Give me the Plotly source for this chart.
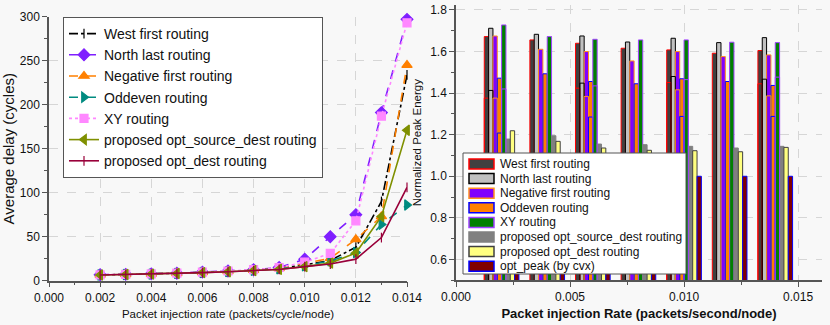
import plotly.graph_objects as go

# ---------------- Left chart data ----------------
rates = [0.002, 0.003, 0.004, 0.005, 0.006, 0.007, 0.008, 0.009, 0.010, 0.011, 0.012, 0.013, 0.014]
west_first = [6.5, 7.0, 7.5, 8.5, 9.5, 10.5, 12.0, 14.0, 18.0, 23.0, 38.0, 90.0, 234.0]
north_last = [6.8, 7.2, 7.8, 8.5, 9.8, 11.0, 12.5, 15.0, 24.5, 50.0, 75.0, 191.0, 297.0]
negative_first = [6.6, 7.1, 7.6, 8.4, 9.5, 10.6, 12.0, 14.0, 20.0, 25.5, 47.0, 73.0, 245.0]
oddeven = [6.5, 7.0, 7.5, 8.3, 9.3, 10.3, 11.8, 13.5, 17.0, 22.5, 32.0, 64.0, 86.0]
xy_routing = [6.7, 7.2, 7.8, 8.6, 9.7, 11.0, 12.5, 15.0, 21.0, 31.0, 68.0, 187.0, 293.0]
opt_source_dest = [6.5, 7.0, 7.5, 8.2, 9.2, 10.2, 11.6, 13.0, 16.0, 20.0, 31.5, 73.0, 171.0]
opt_dest = [6.5, 7.0, 7.5, 8.2, 9.2, 10.2, 11.5, 12.8, 16.0, 19.0, 24.5, 49.0, 106.0]

left_names = ["West first routing", "North last routing", "Negative first routing",
              "Oddeven routing", "XY routing", "proposed opt_source_dest routing",
              "proposed opt_dest routing"]

# ---------------- Right chart data ----------------
groups = [0.002, 0.004, 0.006, 0.008, 0.010, 0.012, 0.014]
e_west = [1.672, 1.656, 1.640, 1.616, 1.608, 1.592, 1.605]
e_north = [1.712, 1.683, 1.675, 1.646, 1.664, 1.643, 1.667]
e_negative = [1.675, 1.611, 1.600, 1.555, 1.600, 1.576, 1.584]
e_oddeven = [1.472, 1.493, 1.456, 1.445, 1.469, 1.456, 1.437]
e_xy = [1.728, 1.672, 1.659, 1.656, 1.656, 1.645, 1.643]
e_source_dest = [1.179, 1.195, 1.155, 1.152, 1.144, 1.136, 1.144]
e_dest = [1.219, 1.168, 1.136, 1.125, 1.123, 1.118, 1.139]
e_peak = [1.0, 1.0, 1.0, 1.0, 1.0, 1.0, 1.0]

# secondary (inner) levels visible inside some bars
in_west = [1.376, None, 1.424, None, 1.451, None, 1.445]
in_north = [1.413, None, 1.448, None, 1.480, None, 1.467]
in_negative = [1.376, None, 1.384, None, 1.416, None, 1.387]
in_oddeven = [1.208, None, 1.285, None, 1.288, None, 1.288]
in_xy = [1.420, None, 1.435, None, 1.465, None, 1.477]

right_names = ["West first routing", "North last routing", "Negative first routing",
               "Oddeven routing", "XY routing", "proposed opt_source_dest routing",
               "proposed opt_dest routing", "opt_peak (by cvx)"]

FONT = "Liberation Sans, Arial, sans-serif"
W, H = 830, 325
fig = go.Figure()

# ---- left: lines ----
left_series = [west_first, north_last, negative_first, oddeven, xy_routing, opt_source_dest, opt_dest]
left_styles = [
    dict(color="#000000", dash="dashdot", symbol="line-ns-open", size=7),
    dict(color="#7f1fff", dash="dash", symbol="diamond", size=9),
    dict(color="#ff8000", dash="dash", symbol="triangle-up", size=9),
    dict(color="#008b80", dash="dash", symbol="triangle-right", size=9),
    dict(color="#ff88ff", dash="dot", symbol="square", size=8),
    dict(color="#7f9000", dash="solid", symbol="triangle-left", size=9),
    dict(color="#99003a", dash="solid", symbol="line-ns-open", size=7),
]
for name, ys, st in zip(left_names, left_series, left_styles):
    fig.add_trace(go.Scatter(
        x=rates, y=ys, name=name, mode="lines+markers",
        line=dict(color=st["color"], dash=st["dash"], width=1.6),
        marker=dict(symbol=st["symbol"], size=st["size"], color=st["color"],
                    line=dict(color=st["color"], width=1.2)),
        cliponaxis=False, xaxis="x", yaxis="y", legend="legend"))

# ---- right: bars ----
bar_vals = [e_west, e_north, e_negative, e_oddeven, e_xy, e_source_dest, e_dest, e_peak]
bar_fill = ["#404040", "#c0c0c0", "#8000ff", "#ff8000", "#008000", "#808080", "#ffff80", "#800000"]
bar_line = ["#ff0000", "#000000", "#ff9020", "#0000ff", "#a040ff", "#808080", "#404040", "#0000ff"]
inner_vals = [in_west, in_north, in_negative, in_oddeven, in_xy]

bw = 0.00019
start = -4 * bw
for i, (name, ys) in enumerate(zip(right_names, bar_vals)):
    fig.add_trace(go.Bar(
        x=groups, y=ys, name=name, width=bw, offset=start + i * bw, showlegend=False,
        marker=dict(color=bar_fill[i], line=dict(color=bar_line[i], width=1)),
        xaxis="x2", yaxis="y2"))
for i, ys in enumerate(inner_vals):
    fig.add_trace(go.Bar(
        x=groups, y=ys, width=bw, offset=start + i * bw, showlegend=False,
        marker=dict(color="rgba(0,0,0,0)", line=dict(color=bar_line[i], width=1)),
        hoverinfo="skip", xaxis="x2", yaxis="y2"))

# ---- right legend (compact box, built from the series names and styles) ----
shapes = []
annotations = []
lx0, ly0, lx1, ly1 = 463, 153, 686, 274
shapes.append(dict(type="rect", xref="paper", yref="paper",
                   x0=lx0 / W, x1=lx1 / W, y0=1 - ly1 / H, y1=1 - ly0 / H,
                   fillcolor="#ffffff", line=dict(color="#555555", width=1), layer="above"))
for i, name in enumerate(right_names):
    cy = 164 + i * 14.6
    shapes.append(dict(type="rect", xref="paper", yref="paper",
                       x0=469 / W, x1=494 / W, y0=1 - (cy + 5) / H, y1=1 - (cy - 5) / H,
                       fillcolor=bar_fill[i], line=dict(color=bar_line[i], width=1.5), layer="above"))
    annotations.append(dict(xref="paper", yref="paper", x=498 / W, y=1 - cy / H,
                            xanchor="left", yanchor="middle", showarrow=False, text=name,
                            font=dict(family=FONT, size=12, color="#111111")))

axis_common = dict(
    showline=True, linecolor="#555555", linewidth=1.5, ticks="outside", ticklen=5,
    tickcolor="#555555", tickwidth=1.2, showgrid=True, gridcolor="#d6d6d6",
    griddash="dash", gridwidth=1, zeroline=False, mirror=False, automargin=False,
    tickfont=dict(family=FONT, size=12, color="#111111"),
)

fig.update_layout(
    width=W, height=H,
    margin=dict(l=0, r=0, t=0, b=0),
    paper_bgcolor="#f8f8f8", plot_bgcolor="#f8f8f8",
    barmode="overlay",
    font=dict(family=FONT, color="#111111"),
    shapes=shapes, annotations=annotations,
    xaxis=dict(domain=[49 / W, 407 / W], range=[0, 0.014], dtick=0.002,
               tickformat=".3f",
               minor=dict(ticks="outside", ticklen=3, dtick=0.001, tickcolor="#555555", showgrid=False),
               title=dict(text="Packet injection rate (packets/cycle/node)",
                          font=dict(family=FONT, size=11.5), standoff=6),
               anchor="y", **axis_common),
    yaxis=dict(domain=[(H - 280.7) / H, (H - 16.7) / H], range=[0, 300], dtick=50,
               minor=dict(ticks="outside", ticklen=3, dtick=25, tickcolor="#555555", showgrid=False),
               title=dict(text="Average delay (cycles)", font=dict(family=FONT, size=15), standoff=4),
               anchor="x", **axis_common),
    xaxis2=dict(domain=[456 / W, 822 / W], range=[0, 0.01605], dtick=0.005,
                tickformat=".3f",
                minor=dict(ticks="outside", ticklen=3, dtick=0.0025, tickcolor="#555555", showgrid=False),
                title=dict(text="Packet injection Rate (packets/second/node)",
                           font=dict(family=FONT, size=13, weight="bold"), standoff=6),
                anchor="y2", **axis_common),
    yaxis2=dict(domain=[(H - 280.2) / H, (H - 5) / H], range=[0.5, 1.824], dtick=0.2,
                tickformat=".1f",
                minor=dict(ticks="outside", ticklen=3, dtick=0.1, tickcolor="#555555", showgrid=False),
                title=dict(text="Normalized Peak Energy", font=dict(family=FONT, size=11.5), standoff=6),
                anchor="x2", **axis_common),
    legend=dict(x=63 / W, y=(H - 17) / H, xanchor="left", yanchor="top",
                bgcolor="#ffffff", bordercolor="#555555", borderwidth=1,
                font=dict(family=FONT, size=14, color="#111111"), itemwidth=30),
)

fig.write_html("out.html", config={"displayModeBar": False},
               post_script="document.body.style.margin='0';document.body.style.padding='0';"
                           "document.body.style.overflow='hidden';")
